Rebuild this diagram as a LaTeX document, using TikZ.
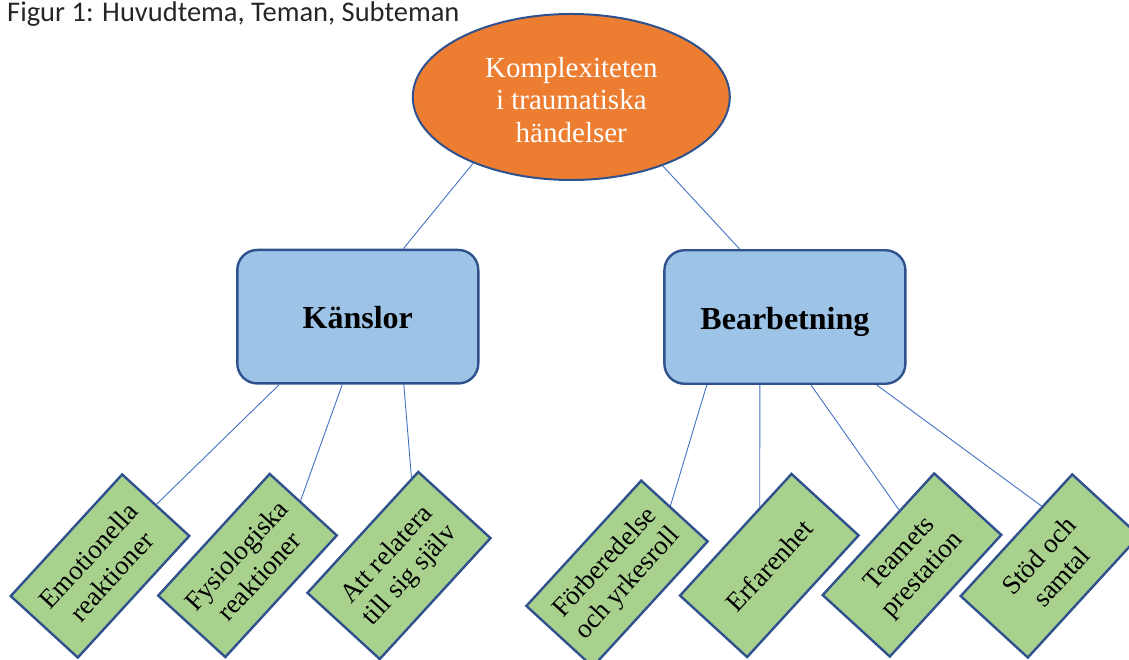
\documentclass[tikz,border=0pt]{standalone}
\usepackage{fontspec}
\setmainfont{Liberation Serif}
\newfontfamily\titlefont{Carlito}
\usetikzlibrary{shapes.geometric,calc}
\definecolor{orangefill}{HTML}{ED7D31}
\definecolor{edgeblue}{HTML}{2F528F}
\definecolor{boxblue}{HTML}{9DC3E6}
\definecolor{boxgreen}{HTML}{A9D18E}
\definecolor{linkblue}{HTML}{4472C4}
\begin{document}
\begin{tikzpicture}[x=1pt,y=1pt,
  mainel/.style={ellipse, draw=edgeblue, line width=2pt, fill=orangefill,
    minimum width=317pt, minimum height=166pt, inner sep=0pt, align=center,
    text=white, font=\fontsize{29}{32.5}\selectfont},
  theme/.style={rectangle, rounded corners=20pt, draw=edgeblue, line width=2.4pt,
    fill=boxblue, minimum width=241pt, minimum height=133.5pt,
    text height=24.6pt, text depth=0pt,
    font=\fontsize{32}{36}\selectfont\bfseries},
  sub/.style={rectangle, draw=edgeblue, line width=2.4pt, fill=boxgreen,
    rotate=47.5, minimum width=165pt, minimum height=91pt, inner sep=0pt,
    align=center, font=\fontsize{27}{31}\selectfont},
  link/.style={draw=linkblue, line width=0.9pt},
  caption/.style={anchor=base west, inner sep=0pt, text=black!85,
    font=\titlefont\fontsize{28.5}{32}\selectfont}]
\useasboundingbox (0,0) rectangle (1129,660);

\node[caption] (title) at (7,638.5) {Figur 1: Huvudtema, Teman, Subteman};

\node[mainel] (e) at (571.3,563) {\rule{0pt}{26pt}Komplexiteten\\i traumatiska\\händelser};

\node[theme] (k) at (357.8,343.3) {Känslor};
\node[theme] (b) at (784.9,343) {Bearbetning};

\node[sub] (g1) at (100,94) {Emotionella\\reaktioner};
\node[sub] (g2) at (247.5,94.5) {Fysiologiska\\reaktioner};
\node[sub, minimum width=164pt, minimum height=98pt] (g3) at (399,94.5) {Att relatera\\till sig själv};
\node[sub, minimum width=170pt, minimum height=90pt] (g4) at (617,86.3) {Förberedelse\\och yrkesroll};
\node[sub] (g5) at (769.3,94.5) {Erfarenhet};
\node[sub] (g6) at (912,95) {Teamets\\prestation};
\node[sub] (g7) at (1050,94) {Stöd och\\samtal};

\draw[link] (e.214.8) -- ($(k.north west)!0.687!(k.north east)$);
\draw[link] (e.323.2) -- ($(b.north west)!0.314!(b.north east)$);

\draw[link] ($(k.south west)!0.177!(k.south east)$) -- (g1.east);
\draw[link] ($(k.south west)!0.436!(k.south east)$) -- ($(g2.north east)!0.45!(g2.south east)$);
\draw[link] ($(k.south west)!0.689!(k.south east)$) -- ($(g3.north east)!0.06!(g3.north west)$);

\draw[link] ($(b.south west)!0.179!(b.south east)$) -- ($(g4.north east)!0.43!(g4.south east)$);
\draw[link] ($(b.south west)!0.397!(b.south east)$) -- ($(g5.north east)!0.28!(g5.north west)$);
\draw[link] ($(b.south west)!0.607!(b.south east)$) -- ($(g6.north east)!0.31!(g6.north west)$);
\draw[link] ($(b.south west)!0.877!(b.south east)$) -- ($(g7.north east)!0.27!(g7.north west)$);
\end{tikzpicture}
\end{document}
